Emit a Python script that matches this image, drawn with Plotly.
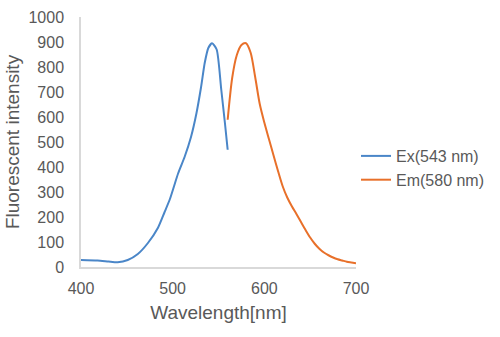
import plotly.graph_objects as go

ex_wl = [400, 418, 430, 440, 451, 462, 473, 484, 491, 497, 506, 513, 520, 526, 531, 535, 539, 543, 548, 553, 557, 560]
ex_int = [28, 26, 22, 19, 28, 52, 96, 157, 218, 272, 375, 440, 520, 616, 720, 817, 877, 895, 870, 710, 576, 469]

em_wl = [560, 565, 570, 575, 580, 585, 590, 595, 600, 605, 610, 615, 620, 625, 630, 635, 640, 645,
         650, 655, 660, 665, 670, 675, 680, 685, 690, 695, 700]
em_int = [589, 758, 848, 888, 895, 858, 760, 652, 578, 512, 447, 383, 323, 278, 243, 212, 180, 148,
          118, 93, 73, 58, 47, 38, 31, 26, 21, 18, 15]

x_ticks = [400, 500, 600, 700]
y_ticks = list(range(0, 1001, 100))

fig = go.Figure()
fig.add_trace(go.Scatter(x=ex_wl, y=ex_int, mode="lines", name="Ex(543 nm)",
                         line=dict(color="#4a86c8", width=2, shape="spline", smoothing=0.6)))
fig.add_trace(go.Scatter(x=em_wl, y=em_int, mode="lines", name="Em(580 nm)",
                         line=dict(color="#e8702a", width=2, shape="spline", smoothing=0.8)))

axis_font = dict(family="Liberation Sans, Arial", size=16, color="#595959")
fig.update_layout(
    width=500, height=337,
    margin=dict(l=81, r=144, t=17, b=70, autoexpand=False),
    paper_bgcolor="white", plot_bgcolor="white",
    font=dict(family="Liberation Sans, Arial", color="#595959"),
    xaxis=dict(range=[400, 700], tickvals=x_ticks, showgrid=False, zeroline=False,
               showline=True, linecolor="#d9d9d9", linewidth=1.5,
               tickfont=axis_font, ticks="", ticklabelstandoff=6,
               title=dict(text="Wavelength[nm]", font=dict(size=19, color="#595959"), standoff=10)),
    yaxis=dict(range=[0, 1000], tickvals=y_ticks, showgrid=False, zeroline=False,
               showline=True, linecolor="#d9d9d9", linewidth=1.5,
               tickfont=axis_font, ticks="", ticklabelstandoff=12,
               title=dict(text="Fluorescent intensity", font=dict(size=19, color="#595959"), standoff=4)),
    legend=dict(x=1.0, y=0.396, xanchor="left", yanchor="middle", itemwidth=30,
                font=dict(family="Liberation Sans, Arial", size=16, color="#595959"),
                bgcolor="rgba(0,0,0,0)", tracegroupgap=2),
    showlegend=True,
)
fig.write_html("out.html")
